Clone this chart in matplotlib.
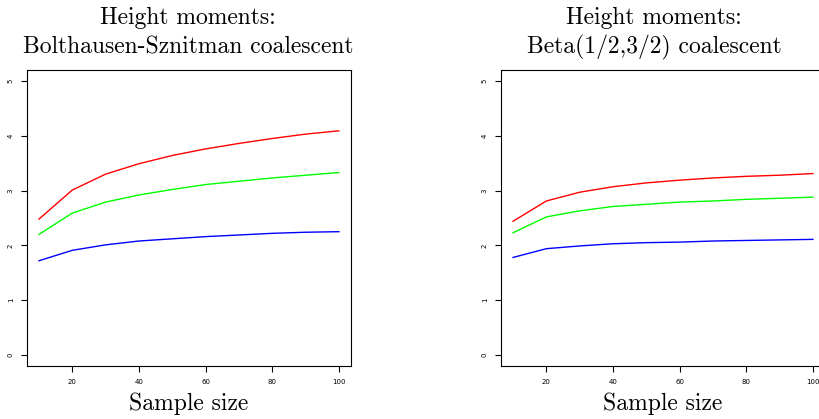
import matplotlib
matplotlib.use("Agg")
import matplotlib.pyplot as plt

sample_size = [10, 20, 30, 40, 50, 60, 70, 80, 90, 100]

# Bolthausen-Sznitman
bs_red = [2.48, 3.01, 3.30, 3.49, 3.64, 3.76, 3.86, 3.95, 4.03, 4.09]
bs_green = [2.20, 2.59, 2.79, 2.92, 3.02, 3.11, 3.17, 3.23, 3.28, 3.33]
bs_blue = [1.72, 1.91, 2.01, 2.08, 2.12, 2.16, 2.19, 2.22, 2.24, 2.25]

# Beta(1/2,3/2)
beta_red = [2.44, 2.81, 2.97, 3.07, 3.14, 3.19, 3.23, 3.26, 3.28, 3.31]
beta_green = [2.23, 2.52, 2.63, 2.71, 2.75, 2.79, 2.81, 2.84, 2.86, 2.88]
beta_blue = [1.78, 1.94, 1.99, 2.03, 2.05, 2.06, 2.08, 2.09, 2.10, 2.11]

titles = [("Height moments:", "Bolthausen-Sznitman coalescent"),
          ("Height moments:", "Beta(1/2,3/2) coalescent")]
xticks = [20, 40, 60, 80, 100]
yticks = [0, 1, 2, 3, 4, 5]

serif = "cmr10"
W, H = 820, 419

fig = plt.figure(figsize=(8.2, 4.19), dpi=100)
ax1 = fig.add_axes([0.0329, 0.1265, 0.395, 0.7065])
ax2 = fig.add_axes([0.611, 0.1265, 0.395, 0.7065])

# title centres (pixels) as in the original
title_x = [188, 654]

for i, (ax, ys) in enumerate([(ax1, (bs_red, bs_green, bs_blue)),
                              (ax2, (beta_red, beta_green, beta_blue))]):
    ax.plot(sample_size, ys[0], color="red", lw=1)
    ax.plot(sample_size, ys[1], color="#00ff00", lw=1)
    ax.plot(sample_size, ys[2], color="blue", lw=1)
    ax.set_xlim(6.4, 103.6)
    ax.set_ylim(-0.2, 5.2)
    ax.set_xticks(xticks)
    ax.set_yticks(yticks)
    ax.tick_params(direction="out", length=4.5, width=0.8, labelsize=5, pad=5)
    for lab in ax.get_yticklabels():
        lab.set_rotation(90)
        lab.set_va("center")
    for s in ax.spines.values():
        s.set_linewidth(0.8)
    ax.set_xlabel("Sample size", fontsize=17, family=serif, labelpad=5)
    fig.text(title_x[i] / W, 1 - 24 / H, titles[i][0], fontsize=17,
             family=serif, ha="center", va="baseline")
    fig.text(title_x[i] / W, 1 - 53.5 / H, titles[i][1], fontsize=17,
             family=serif, ha="center", va="baseline")

fig.savefig("out.png", dpi=100)
